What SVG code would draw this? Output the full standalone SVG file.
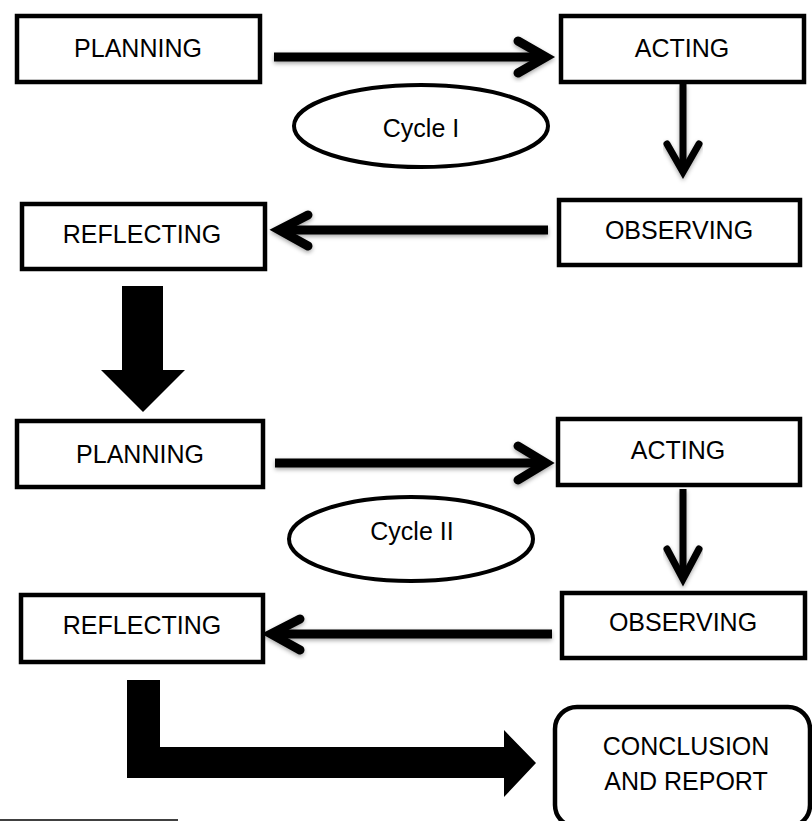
<svg xmlns="http://www.w3.org/2000/svg" width="812" height="821" viewBox="0 0 812 821">
<style>
  .box{fill:#fff;stroke:#000;stroke-width:4.5}
  .lbl{font-family:"Liberation Sans",Arial,sans-serif;font-size:25px;fill:#000;text-anchor:middle}
  .ln{fill:none;stroke:#000;stroke-linecap:butt}
  .chev{fill:none;stroke:#000;stroke-linecap:round;stroke-linejoin:miter}
</style>
<defs>
  <filter id="sh" x="-10%" y="-30%" width="120%" height="160%">
    <feDropShadow dx="0" dy="2" stdDeviation="2" flood-color="#000" flood-opacity="0.35"/>
  </filter>
</defs>
<rect width="812" height="821" fill="#fff"/>

<g id="connectors">
  <g filter="url(#sh)">
    <line class="ln" x1="274" y1="57" x2="544" y2="57" stroke-width="9"/>
    <polyline class="chev" points="518,41 546,57 518,73" stroke-width="9"/>
  </g>
  <g filter="url(#sh)">
    <line class="ln" x1="683" y1="84" x2="683" y2="172" stroke-width="7"/>
    <polyline class="chev" points="667,144 683,172 699,144" stroke-width="7"/>
  </g>
  <g filter="url(#sh)">
    <line class="ln" x1="548" y1="230" x2="282" y2="230" stroke-width="9"/>
    <polyline class="chev" points="308,215 279,230 308,246" stroke-width="9"/>
  </g>
  <polygon points="122,286 163,286 163,370 185,370 143,412 101,370 122,370" fill="#000"/>
  <g filter="url(#sh)">
    <line class="ln" x1="275" y1="463" x2="544" y2="463" stroke-width="9"/>
    <polyline class="chev" points="518,446 546,463 518,480" stroke-width="9"/>
  </g>
  <g filter="url(#sh)">
    <line class="ln" x1="683" y1="489" x2="683" y2="579" stroke-width="7"/>
    <polyline class="chev" points="667,549 683,579 699,549" stroke-width="7"/>
  </g>
  <g filter="url(#sh)">
    <line class="ln" x1="552" y1="634" x2="274" y2="634" stroke-width="9"/>
    <polyline class="chev" points="300,619 271,634 300,650" stroke-width="9"/>
  </g>
  <polygon points="127,680 160,680 160,747 504,747 504,730 536,763 504,797 504,778 127,778" fill="#000"/>
</g>

<g id="planning1"><rect class="box" x="17" y="16" width="243" height="66"/><text class="lbl" x="138" y="57">PLANNING</text></g>
<g id="acting1"><rect class="box" x="561" y="16" width="243" height="66"/><text class="lbl" x="682" y="57">ACTING</text></g>
<g id="cycle1"><ellipse cx="421" cy="126" rx="127" ry="41" fill="#fff" stroke="#000" stroke-width="4"/><text class="lbl" x="421" y="137">Cycle I</text></g>
<g id="observing1"><rect class="box" x="559" y="200" width="241" height="65"/><text class="lbl" x="679" y="239">OBSERVING</text></g>
<g id="reflecting1"><rect class="box" x="22" y="204" width="243" height="65"/><text class="lbl" x="142" y="243">REFLECTING</text></g>

<g id="planning2"><rect class="box" x="17" y="421" width="246" height="66"/><text class="lbl" x="140" y="463">PLANNING</text></g>
<g id="acting2"><rect class="box" x="558" y="419" width="242" height="66"/><text class="lbl" x="678" y="459">ACTING</text></g>
<g id="cycle2"><ellipse cx="411" cy="539" rx="122" ry="42" fill="#fff" stroke="#000" stroke-width="4"/><text class="lbl" x="412" y="540">Cycle II</text></g>
<g id="observing2"><rect class="box" x="562" y="593" width="243" height="65"/><text class="lbl" x="683" y="631">OBSERVING</text></g>
<g id="reflecting2"><rect class="box" x="21" y="595" width="242" height="67"/><text class="lbl" x="142" y="634">REFLECTING</text></g>

<g id="conclusion"><rect class="box" x="555" y="707" width="255" height="120" rx="22"/><text class="lbl" x="686" y="755">CONCLUSION</text><text class="lbl" x="686" y="790">AND REPORT</text></g>

<line x1="0" y1="820" x2="178" y2="820" stroke="#000" stroke-width="1.5"/>
</svg>
